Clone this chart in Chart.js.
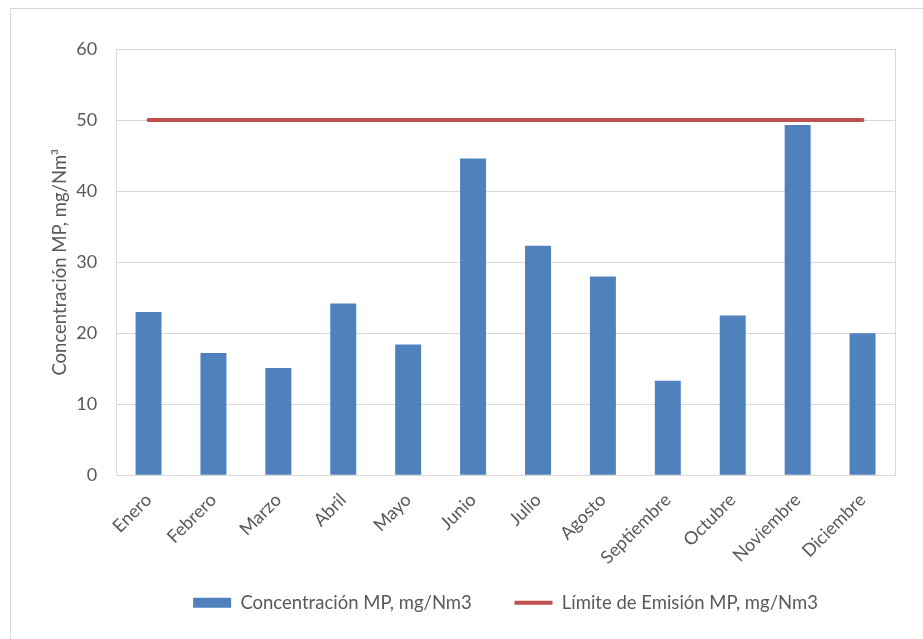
<!DOCTYPE html>
<html>
<head>
<meta charset="utf-8">
<script src="https://cdn.jsdelivr.net/npm/chart.js@4/dist/chart.umd.min.js"></script>
<style>
  html, body { margin: 0; padding: 0; background: #fff; overflow: hidden; }
  #frame { position: absolute; left: 10px; top: 8px; width: 1000px; height: 700px; border: 1px solid #d9d9d9; }
  #wrap { position: absolute; left: 0; top: 0; width: 923px; height: 639px; }
</style>
</head>
<body>
<div id="frame"></div>
<div id="wrap"><canvas id="chart"></canvas></div>
<script>
// ------ Datos ------
const meses = ['Enero', 'Febrero', 'Marzo', 'Abril', 'Mayo', 'Junio', 'Julio', 'Agosto',
  'Septiembre', 'Octubre', 'Noviembre', 'Diciembre'];
const concentracion = [23.0, 17.2, 15.1, 24.2, 18.4, 44.6, 32.3, 28.0, 13.3, 22.5, 49.3, 20.0];
const limite = [50, 50, 50, 50, 50, 50, 50, 50, 50, 50, 50, 50];

const TXT = '#595959';
const GRID = '#d9d9d9';
const FONT = 'Lato, "Open Sans", sans-serif';

// marco del área de trazado
const plotFrame = {
  id: 'plotFrame',
  afterDraw(chart) {
    const a = chart.chartArea, c = chart.ctx;
    c.save();
    c.strokeStyle = GRID;
    c.lineWidth = 1;
    c.strokeRect(Math.round(a.left) + 0.5, Math.round(a.top) + 0.5,
      Math.round(a.right - a.left), Math.round(a.bottom - a.top));
    c.restore();
  }
};

new Chart(document.getElementById('chart'), {
  data: {
    labels: meses,
    datasets: [
      {
        type: 'bar', label: 'Concentración MP, mg/Nm3', data: concentracion,
        backgroundColor: '#4f81bd', barPercentage: 0.4, categoryPercentage: 1.0, order: 2
      },
      {
        type: 'line', label: 'Límite de Emisión MP, mg/Nm3', data: limite,
        borderColor: '#c0504d', backgroundColor: '#c0504d', borderWidth: 4,
        pointRadius: 0, borderCapStyle: 'round', order: 1
      }
    ]
  },
  options: {
    animation: false,
    responsive: true,
    maintainAspectRatio: false,
    layout: { autoPadding: false, padding: { top: 49, right: 28, left: 49, bottom: 17 } },
    plugins: {
      tooltip: { enabled: false },
      legend: {
        position: 'bottom',
        fullSize: false,
        labels: {
          color: TXT, font: { family: FONT, size: 18.5 },
          usePointStyle: true, pointStyleWidth: 38, boxHeight: 10, padding: 19,
          generateLabels(chart) {
            const ds = chart.data.datasets;
            return ds.map((d, i) => ({
              // espacio extra entre elementos de la leyenda
              text: i < ds.length - 1 ? d.label + '     ' : d.label,
              fillStyle: d.backgroundColor,
              strokeStyle: d.type === 'line' ? d.borderColor : d.backgroundColor,
              lineWidth: d.type === 'line' ? 4 : 0,
              pointStyle: d.type === 'line' ? 'line' : 'rect',
              fontColor: TXT,
              datasetIndex: i
            }));
          }
        }
      }
    },
    scales: {
      x: {
        offset: true,
        grid: { display: false },
        border: { display: true, color: GRID },
        ticks: { color: TXT, font: { family: FONT, size: 18 }, maxRotation: 45, minRotation: 45, autoSkip: false, padding: 6 }
      },
      y: {
        min: 0, max: 60,
        grid: { color: GRID, drawTicks: false },
        border: { display: true, color: GRID },
        ticks: { stepSize: 10, color: TXT, font: { family: FONT, size: 18 }, padding: 19 },
        title: { display: true, text: 'Concentración MP, mg/Nm³', color: TXT, font: { family: FONT, size: 18.5 }, padding: { top: 0, bottom: 5 } },
        afterFit(scale) { scale.width -= 19; }
      }
    }
  },
  plugins: [plotFrame]
});
</script>
</body>
</html>
